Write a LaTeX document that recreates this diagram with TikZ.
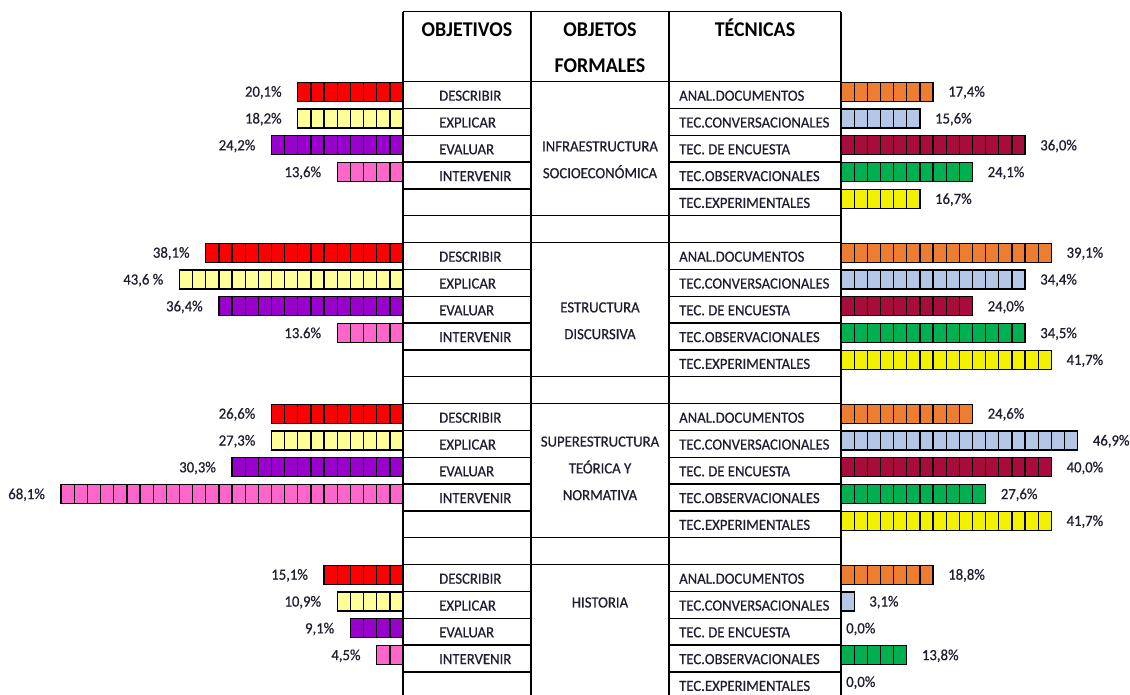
\documentclass[tikz,border=0pt]{standalone}
\usepackage{fontspec}
\setmainfont{Carlito}[FakeStretch=0.95]
\newfontfamily\lblfont{Carlito}[FakeStretch=0.95,FakeBold=0.6]
\usetikzlibrary{positioning}
\definecolor{txt}{RGB}{30,30,48}
\definecolor{lc0}{HTML}{FF0000}
\definecolor{lc1}{HTML}{FFFF99}
\definecolor{lc2}{HTML}{9900CC}
\definecolor{lc3}{HTML}{FF66CC}
\definecolor{rc0}{HTML}{ED7D31}
\definecolor{rc1}{HTML}{B4C7E7}
\definecolor{rc2}{HTML}{A80C3C}
\definecolor{rc3}{HTML}{00B050}
\definecolor{rc4}{HTML}{F2F200}
\tikzset{
	grid/.style = {
		draw = black,
		line width = 1.4pt
	},
	hdr/.style = {
		font = \bfseries\fontsize{21}{25}\selectfont,
		inner sep = 0pt,
		anchor = base
	},
	lbl/.style = {
		font = \lblfont\fontsize{15.5}{26.8}\selectfont,
		text = txt,
		inner sep = 0pt
	},
	bar/.style = {
		draw = black,
		line width = 1.3pt
	}
}

\begin{document}
\begin{tikzpicture}[x = 1pt, y = -1pt]
    \useasboundingbox (0,0) rectangle (1130,695);

    \foreach \xx in {403,531,669,841}
        \draw [grid] (\xx,11.7) -- (\xx,695);
    \draw [grid] (403,11.7) -- (841,11.7);
    \draw [grid] (403,81.7) -- (841,81.7);

    \node [hdr] (hobj) at (467,36.6) {OBJETIVOS};
    \node [hdr] (hform) at (600,36.6) {OBJETOS};
    \node [hdr, below = 22pt of hform] (hform2) {FORMALES};
    \node [hdr] (htec) at (755,36.6) {TÉCNICAS};

    \foreach \blk in {0,...,3} {
        \pgfmathsetmacro\ytop{81.7+161*\blk}
        \foreach \row in {1,...,4} {
            \draw [grid] (403,\ytop+26.8*\row) -- (531,\ytop+26.8*\row);
            \draw [grid] (669,\ytop+26.8*\row) -- (841,\ytop+26.8*\row);
        }
        \draw [grid] (403,\ytop+134) -- (841,\ytop+134);
        \draw [grid] (403,\ytop+161) -- (841,\ytop+161);
        \foreach \val [count=\row from 0] in {DESCRIBIR,EXPLICAR,EVALUAR,INTERVENIR}
            \node [lbl, anchor = base west] (o-\blk-\row) at (439,\ytop+26.8*\row+19) {\val};
        \foreach \val [count=\row from 0] in {ANAL.DOCUMENTOS,TEC.CONVERSACIONALES,TEC. DE ENCUESTA,TEC.OBSERVACIONALES,TEC.EXPERIMENTALES}
            \node [lbl, anchor = base west] (t-\blk-\row) at (679,\ytop+26.8*\row+19) {\val};
    }

    \node [lbl, align = center] (f-0) at (600,159.8) {INFRAESTRUCTURA\\SOCIOECONÓMICA};
    \node [lbl, align = center] (f-1) at (600,320.8) {ESTRUCTURA\\DISCURSIVA};
    \node [lbl, align = center] (f-2) at (600,468.4) {SUPERESTRUCTURA\\TEÓRICA Y\\NORMATIVA};
    \node [lbl, align = center] (f-3) at (600,602.5) {HISTORIA};

    \foreach \blk/\row/\num/\val in {
        0/0/8/20{,}1\%, 0/1/8/18{,}2\%, 0/2/10/24{,}2\%, 0/3/5/13{,}6\%,
        1/0/15/38{,}1\%, 1/1/17/43{,}6 \%, 1/2/14/36{,}4\%, 1/3/5/13.6\%,
        2/0/10/26{,}6\%, 2/1/10/27{,}3\%, 2/2/13/30{,}3\%, 2/3/26/68{,}1\%,
        3/0/6/15{,}1\%, 3/1/5/10{,}9\%, 3/2/4/9{,}1\%, 3/3/2/4{,}5\%} {
        \pgfmathsetmacro\ybar{81.7+161*\blk+26.8*\row}
        \foreach \cell in {1,...,\num}
            \draw [bar, fill = lc\row] (403-13.15*\cell,\ybar+0.5) rectangle ++(13.15,19);
        \node [lbl, anchor = base east] (pl-\blk-\row) at (387-13.15*\num,\ybar+15) {\val};
    }

    \foreach \blk/\row/\num/\val in {
        0/0/7/17{,}4\%, 0/1/6/15{,}6\%, 0/2/14/36{,}0\%, 0/3/10/24{,}1\%, 0/4/6/16{,}7\%,
        1/0/16/39{,}1\%, 1/1/14/34{,}4\%, 1/2/10/24{,}0\%, 1/3/14/34{,}5\%, 1/4/16/41{,}7\%,
        2/0/10/24{,}6\%, 2/1/18/46{,}9\%, 2/2/16/40{,}0\%, 2/3/11/27{,}6\%, 2/4/16/41{,}7\%,
        3/0/7/18{,}8\%, 3/1/1/3{,}1\%, 3/2/0/0{,}0\%, 3/3/5/13{,}8\%, 3/4/0/0{,}0\%} {
        \pgfmathsetmacro\ybar{81.7+161*\blk+26.8*\row}
        \ifnum\num>0
            \foreach \cell in {1,...,\num}
                \draw [bar, fill = rc\row] (841+13.15*\cell-13.15,\ybar+0.5) rectangle ++(13.15,19);
        \fi
        \pgfmathsetmacro\xlbl{846+13.15*\num+10*(\num>0)}
        \node [lbl, anchor = base west] (pr-\blk-\row) at (\xlbl,\ybar+15) {\val};
    }
\end{tikzpicture}
\end{document}
